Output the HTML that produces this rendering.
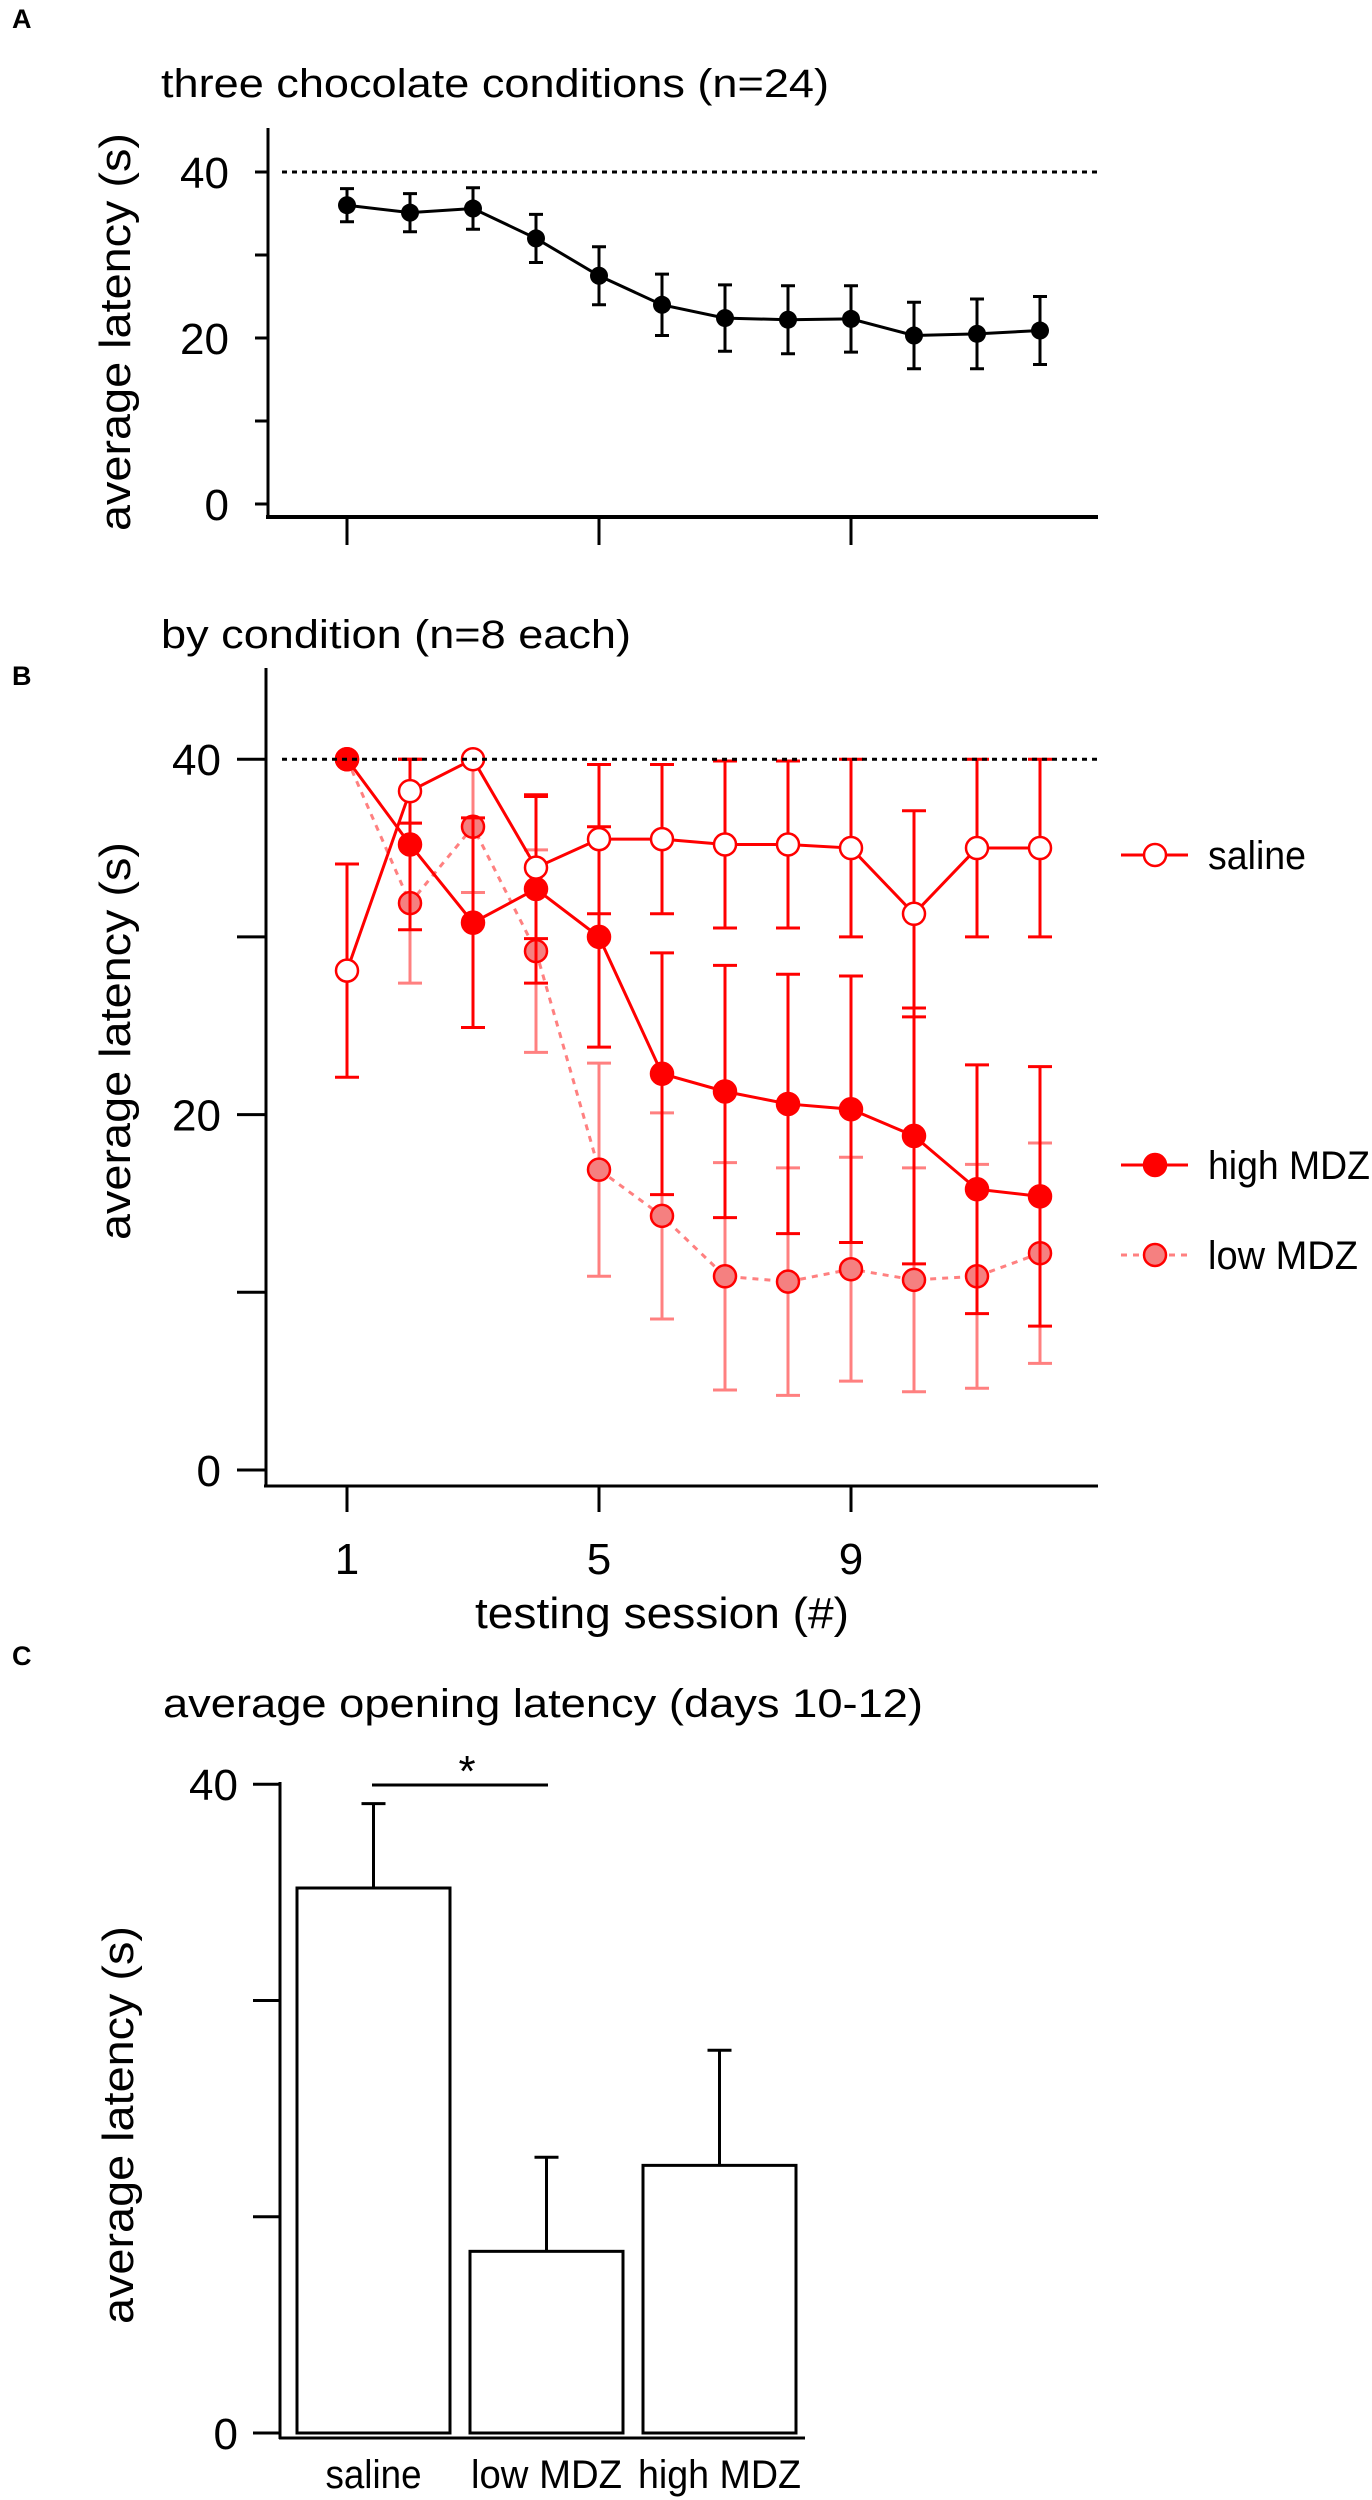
<!DOCTYPE html>
<html>
<head>
<meta charset="utf-8">
<style>
  html, body { margin: 0; padding: 0; background: #fff; }
  svg { display: block; }
  text { font-family: "Liberation Sans", "DejaVu Sans", sans-serif; fill: #000; }
</style>
</head>
<body>
<svg id="fig" width="1372" height="2500" viewBox="0 0 1372 2500" xmlns="http://www.w3.org/2000/svg">
  <g id="panelA"></g>
  <g id="panelB"></g>
  <g id="panelC"></g>
</svg>
<script>
// ---------- Data ----------
const sessions = [1,2,3,4,5,6,7,8,9,10,11,12];
const xTickLabels = [1,5,9];
const yTickLabelsAB = [0,20,40];
const allMean = [36.0,35.1,35.6,32.0,27.5,24.0,22.4,22.2,22.3,20.3,20.5,20.9];
const allErr  = [2.0, 2.3, 2.5, 2.9, 3.5, 3.7, 4.0, 4.1, 4.0, 4.0, 4.2, 4.1];
const salineMean = [28.1,38.2,40.0,33.9,35.5,35.5,35.2,35.2,35.0,31.3,35.0,35.0];
const salineErr  = [6.0, 1.8, 0,   4.0, 4.2, 4.2, 4.7, 4.7, 5.0, 5.8, 5.0, 5.0];
const highMean = [40.0,35.2,30.8,32.7,30.0,22.3,21.3,20.6,20.3,18.8,15.8,15.4];
const highErr  = [0,   4.8, 5.9, 5.3, 6.2, 6.8, 7.1, 7.3, 7.5, 7.2, 7.0, 7.3];
const lowMean = [40.0,31.9,36.2,29.2,16.9,14.3,10.9,10.6,11.3,10.7,10.9,12.2];
const lowErr  = [0,   4.5, 3.7, 5.7, 6.0, 5.8, 6.4, 6.4, 6.3, 6.3, 6.3, 6.2];
const barCategories = ["saline","low MDZ","high MDZ"];
const barMeans = [33.6, 11.2, 16.5];
const barErrs  = [5.2, 5.8, 7.1];
const yTickLabelsC = [0,40];

// ---------- Helpers ----------
const NS = "http://www.w3.org/2000/svg";
function mk(tag, parent, attrs) {
  const e = document.createElementNS(NS, tag);
  for (const k in attrs) e.setAttribute(k, attrs[k]);
  parent.appendChild(e);
  return e;
}
function txt(parent, s, attrs) { const t = mk("text", parent, attrs); t.textContent = s; return t; }

const gA = document.getElementById("panelA");
const gB = document.getElementById("panelB");
const gC = document.getElementById("panelC");

const xS = s => 347 + (s - 1) * 63;
const yA = v => 504 - v * 8.3;
const yB = v => 1470 - v * 17.77;

// ---------- Panel A ----------
let e;
e = txt(gA, "A", {x: 12, y: 28, "font-size": 27, "font-weight": "bold"});


e = txt(gA, "three chocolate conditions (n=24)", {x: 161, y: 97, "font-size": 40, textLength: 668, lengthAdjust: "spacingAndGlyphs"});


e = txt(gA, "average latency (s)", {transform: "translate(130,332) rotate(-90)", "text-anchor": "middle", "font-size": 44, textLength: 398, lengthAdjust: "spacingAndGlyphs"});


e = mk("line", gA, {x1: 268, y1: 128, x2: 268, y2: 517, stroke: "#000", "stroke-width": 3});


e = mk("line", gA, {x1: 266, y1: 517, x2: 1098, y2: 517, stroke: "#000", "stroke-width": 4});


[0,10,20,30,40].forEach(v => {
  e = mk("line", gA, {x1: 255, y1: yA(v), x2: 268, y2: yA(v), stroke: "#000", "stroke-width": 3});
  
  
});
yTickLabelsAB.forEach(v => {
  e = txt(gA, String(v), {x: 229, y: yA(v) + 16, "text-anchor": "end", "font-size": 44});
  
  
});
xTickLabels.forEach(s => {
  e = mk("line", gA, {x1: xS(s), y1: 517, x2: xS(s), y2: 545, stroke: "#000", "stroke-width": 3});
  
  
});
e = mk("line", gA, {x1: 282, y1: yA(40), x2: 1098, y2: yA(40), stroke: "#000", "stroke-width": 3, "stroke-dasharray": "5 5"});


sessions.forEach((s, i) => {
  const x = xS(s), t = yA(allMean[i] + allErr[i]), b = yA(allMean[i] - allErr[i]);
  e = mk("path", gA, {d: `M${x},${t}V${b}M${x-7},${t}H${x+7}M${x-7},${b}H${x+7}`, stroke: "#000", "stroke-width": 3, fill: "none"});
  
  
});
e = mk("polyline", gA, {points: sessions.map((s, i) => xS(s) + "," + yA(allMean[i])).join(" "), stroke: "#000", "stroke-width": 3, fill: "none"});


sessions.forEach((s, i) => {
  e = mk("circle", gA, {cx: xS(s), cy: yA(allMean[i]), r: 9, fill: "#000"});
  
  
});

// ---------- Panel B ----------
e = txt(gB, "B", {x: 12, y: 685, "font-size": 27, "font-weight": "bold"});


e = txt(gB, "by condition (n=8 each)", {x: 161, y: 648, "font-size": 40, textLength: 470, lengthAdjust: "spacingAndGlyphs"});


e = txt(gB, "average latency (s)", {transform: "translate(130,1041) rotate(-90)", "text-anchor": "middle", "font-size": 44, textLength: 398, lengthAdjust: "spacingAndGlyphs"});


e = mk("line", gB, {x1: 266, y1: 668, x2: 266, y2: 1487, stroke: "#000", "stroke-width": 3});


e = mk("line", gB, {x1: 264, y1: 1486, x2: 1098, y2: 1486, stroke: "#000", "stroke-width": 3});


[0,10,20,30,40].forEach(v => {
  e = mk("line", gB, {x1: 237, y1: yB(v), x2: 266, y2: yB(v), stroke: "#000", "stroke-width": 3});
  
  
});
yTickLabelsAB.forEach(v => {
  e = txt(gB, String(v), {x: 221, y: yB(v) + 16, "text-anchor": "end", "font-size": 44});
  
  
});
xTickLabels.forEach(s => {
  e = mk("line", gB, {x1: xS(s), y1: 1486, x2: xS(s), y2: 1512, stroke: "#000", "stroke-width": 3});
  
  
  e = txt(gB, String(s), {x: xS(s), y: 1574, "text-anchor": "middle", "font-size": 44});
  
  
});
e = txt(gB, "testing session (#)", {x: 662, y: 1628, "text-anchor": "middle", "font-size": 44, textLength: 374, lengthAdjust: "spacingAndGlyphs"});



function errBars(g, mean, err, color, name) {
  sessions.forEach((s, i) => {
    if (!err[i]) return;
    const x = xS(s), t = yB(Math.min(40, mean[i] + err[i])), b = yB(mean[i] - err[i]);
    const el = mk("path", g, {d: `M${x},${t}V${b}M${x-12},${t}H${x+12}M${x-12},${b}H${x+12}`, stroke: color, "stroke-width": 3, fill: "none"});
    
    
  });
}
function series(g, mean, stroke, fill, dash, name) {
  const pl = mk("polyline", g, {points: sessions.map((s, i) => xS(s) + "," + yB(mean[i])).join(" "), stroke: stroke, "stroke-width": 3, fill: "none", "stroke-dasharray": dash});
  
  
  sessions.forEach((s, i) => {
    const c = mk("circle", g, {cx: xS(s), cy: yB(mean[i]), r: 11, fill: fill, stroke: "#ff0000", "stroke-width": 2.5});
    
    
  });
}
errBars(gB, lowMean, lowErr, "#ff8080", "low-mdz-error-bar");
series(gB, lowMean, "#ff8080", "#f58080", "6 6", "low-mdz");
errBars(gB, highMean, highErr, "#ff0000", "high-mdz-error-bar");
errBars(gB, salineMean, salineErr, "#ff0000", "saline-error-bar");
series(gB, highMean, "#ff0000", "#ff0000", "none", "high-mdz");
series(gB, salineMean, "#ff0000", "#ffffff", "none", "saline");
e = mk("line", gB, {x1: 282, y1: yB(40), x2: 1098, y2: yB(40), stroke: "#000", "stroke-width": 3, "stroke-dasharray": "5 5"});



// legend
const legendItems = [["saline", 855, "#ffffff", "#ff0000", "none", 98], ["high MDZ", 1165, "#ff0000", "#ff0000", "none", 162], ["low MDZ", 1255, "#f58080", "#ff8080", "6 6", 150]];
legendItems.forEach(it => {
  const lg = mk("g", gB, {});
  
  
  mk("line", lg, {x1: 1121, y1: it[1], x2: 1188, y2: it[1], stroke: it[3], "stroke-width": 3, "stroke-dasharray": it[4]});
  mk("circle", lg, {cx: 1155, cy: it[1], r: 11, fill: it[2], stroke: "#ff0000", "stroke-width": 2.5});
  txt(lg, it[0], {x: 1208, y: it[1] + 14, "font-size": 40, textLength: it[5], lengthAdjust: "spacingAndGlyphs"});
});

// ---------- Panel C ----------
const yC = v => 2433 - v * 16.22;
const barX = [297, 470, 643];
const barW = 153;
const catTextLen = [96, 151, 163];
e = txt(gC, "C", {x: 12, y: 1665, "font-size": 27, "font-weight": "bold"});


e = txt(gC, "average opening latency (days 10-12)", {x: 163, y: 1717, "font-size": 40, textLength: 760, lengthAdjust: "spacingAndGlyphs"});


e = txt(gC, "average latency (s)", {transform: "translate(133,2125) rotate(-90)", "text-anchor": "middle", "font-size": 44, textLength: 398, lengthAdjust: "spacingAndGlyphs"});


e = mk("line", gC, {x1: 280, y1: 1782, x2: 280, y2: 2439, stroke: "#000", "stroke-width": 3});


e = mk("line", gC, {x1: 279, y1: 2438, x2: 805, y2: 2438, stroke: "#000", "stroke-width": 3});


[0, 40/3, 80/3, 40].forEach(v => {
  e = mk("line", gC, {x1: 253, y1: yC(v), x2: 280, y2: yC(v), stroke: "#000", "stroke-width": 3});
  
  
});
yTickLabelsC.forEach(v => {
  e = txt(gC, String(v), {x: 238, y: yC(v) + 16, "text-anchor": "end", "font-size": 44});
  
  
});
barCategories.forEach((c, i) => {
  const x = barX[i], cx = x + barW / 2;
  const r = mk("rect", gC, {x: x, y: yC(barMeans[i]), width: barW, height: yC(0) - yC(barMeans[i]), fill: "#fff", stroke: "#000", "stroke-width": 3});
  
  
  const t = yC(barMeans[i] + barErrs[i]);
  const eb = mk("path", gC, {d: `M${cx},${yC(barMeans[i])}V${t}M${cx-12},${t}H${cx+12}`, stroke: "#000", "stroke-width": 3, fill: "none"});
  
  
  const lb = txt(gC, c, {x: cx, y: 2488, "text-anchor": "middle", "font-size": 40, textLength: catTextLen[i], lengthAdjust: "spacingAndGlyphs"});
  
  
});
e = mk("line", gC, {x1: 372, y1: 1785, x2: 548, y2: 1785, stroke: "#000", "stroke-width": 3});


e = txt(gC, "*", {x: 467, y: 1786, "text-anchor": "middle", "font-size": 44});


</script>
</body>
</html>
